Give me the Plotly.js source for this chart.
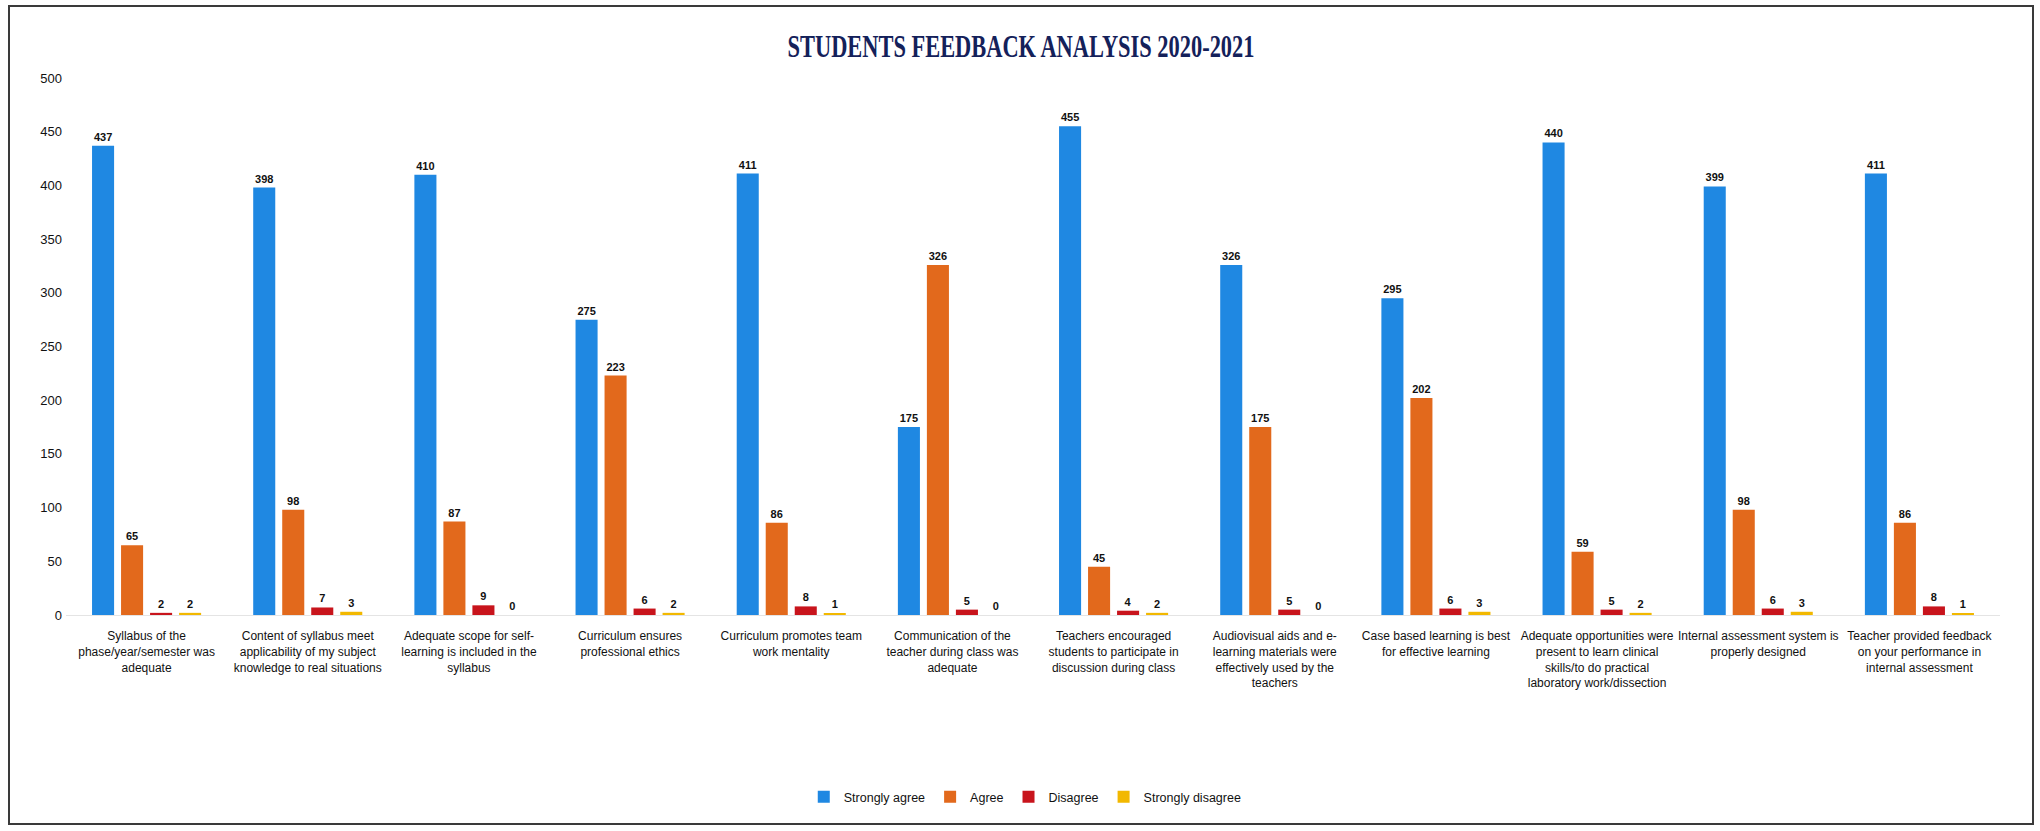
<!DOCTYPE html>
<html>
<head>
<meta charset="utf-8">
<script src="https://cdn.plot.ly/plotly-3.0.1.min.js"></script>
<style>
  html, body { margin: 0; padding: 0; background: #ffffff; }
  #chart { width: 2040px; height: 831px; }
  #frame { position: absolute; left: 8px; top: 5px; width: 2026px; height: 820px;
           border: 2px solid #3a3a3a; box-sizing: border-box; pointer-events: none; }
</style>
</head>
<body>
<div id="chart"></div>
<div id="frame"></div>
<script>
const categories = [
  "Syllabus of the<br>phase/year/semester was<br>adequate",
  "Content of syllabus meet<br>applicability of my subject<br>knowledge to real situations",
  "Adequate scope for self-<br>learning is included in the<br>syllabus",
  "Curriculum ensures<br>professional ethics",
  "Curriculum promotes team<br>work mentality",
  "Communication of the<br>teacher during class was<br>adequate",
  "Teachers encouraged<br>students to participate in<br>discussion during class",
  "Audiovisual aids and e-<br>learning materials were<br>effectively used by the<br>teachers",
  "Case based learning is best<br>for effective learning",
  "Adequate opportunities were<br>present to learn clinical<br>skills/to do practical<br>laboratory work/dissection",
  "Internal assessment system is<br>properly designed",
  "Teacher provided feedback<br>on your performance in<br>internal assessment"
];
const stronglyAgree    = [437, 398, 410, 275, 411, 175, 455, 326, 295, 440, 399, 411];
const agree            = [65, 98, 87, 223, 86, 326, 45, 175, 202, 59, 98, 86];
const disagree         = [2, 7, 9, 6, 8, 5, 4, 5, 6, 5, 6, 8];
const stronglyDisagree = [2, 3, 0, 2, 1, 0, 2, 0, 3, 2, 3, 1];
const seriesNames = ["Strongly agree", "Agree", "Disagree", "Strongly disagree"];
const yTicks = [0, 50, 100, 150, 200, 250, 300, 350, 400, 450, 500];

const sans = "'Liberation Sans', Arial, sans-serif";
const colors = ["#1f88e2", "#e2691c", "#c8141c", "#f2b800"];
const seriesValues = [stronglyAgree, agree, disagree, stronglyDisagree];

const traces = seriesValues.map((vals, i) => ({
  type: "bar",
  name: seriesNames[i],
  x: categories,
  y: vals,
  marker: { color: colors[i] },
  text: vals.map(String),
  textposition: "outside",
  constraintext: "none",
  cliponaxis: false,
  textfont: { family: sans, size: 11, color: "#111111", weight: "bold" },
  hoverinfo: "name+y"
}));

const layout = {
  width: 2040,
  height: 831,
  paper_bgcolor: "#ffffff",
  plot_bgcolor: "#ffffff",
  margin: { l: 66, r: 40, t: 78, b: 216 },
  barmode: "group",
  bargap: 0.28,
  bargroupgap: 0.24,
  title: {
    text: "STUDENTS FEEDBACK ANALYSIS 2020-2021",
    font: { family: "'Liberation Serif', 'Times New Roman', serif", size: 31, color: "#14215a", weight: "bold" },
    x: 0.5005, xref: "container", xanchor: "center",
    y: 0.945, yref: "container", yanchor: "middle"
  },
  xaxis: {
    type: "category",
    tickangle: 0,
    showgrid: false,
    showline: true,
    linecolor: "#e4e4e4",
    linewidth: 1,
    ticks: "",
    ticklabelstandoff: 10,
    tickfont: { family: sans, size: 12, color: "#111111" },
    automargin: false
  },
  yaxis: {
    range: [0, 500],
    tickvals: yTicks,
    ticktext: yTicks.map(String),
    showgrid: false,
    zeroline: false,
    showline: false,
    ticks: "",
    ticklabelstandoff: 3,
    tickfont: { family: sans, size: 13, color: "#111111" },
    automargin: false
  },
  showlegend: true,
  legend: {
    orientation: "h",
    x: 0.496, xref: "paper", xanchor: "center",
    y: -0.339, yref: "paper", yanchor: "middle",
    font: { family: sans, size: 12.5, color: "#111111" },
    itemwidth: 30,
    traceorder: "normal"
  }
};

Plotly.newPlot("chart", traces, layout, { displayModeBar: false, responsive: false }).then(gd => {
  // Condense the title horizontally to match the narrow display face of the reference.
  const t = gd.querySelector(".gtitle");
  if (t) {
    const bb = t.getBBox();
    const cx = bb.x + bb.width / 2;
    const sx = 467 / bb.width;
    t.setAttribute("transform", `translate(${cx},0) scale(${sx},1) translate(${-cx},0)`);
  }
});
</script>
</body>
</html>
